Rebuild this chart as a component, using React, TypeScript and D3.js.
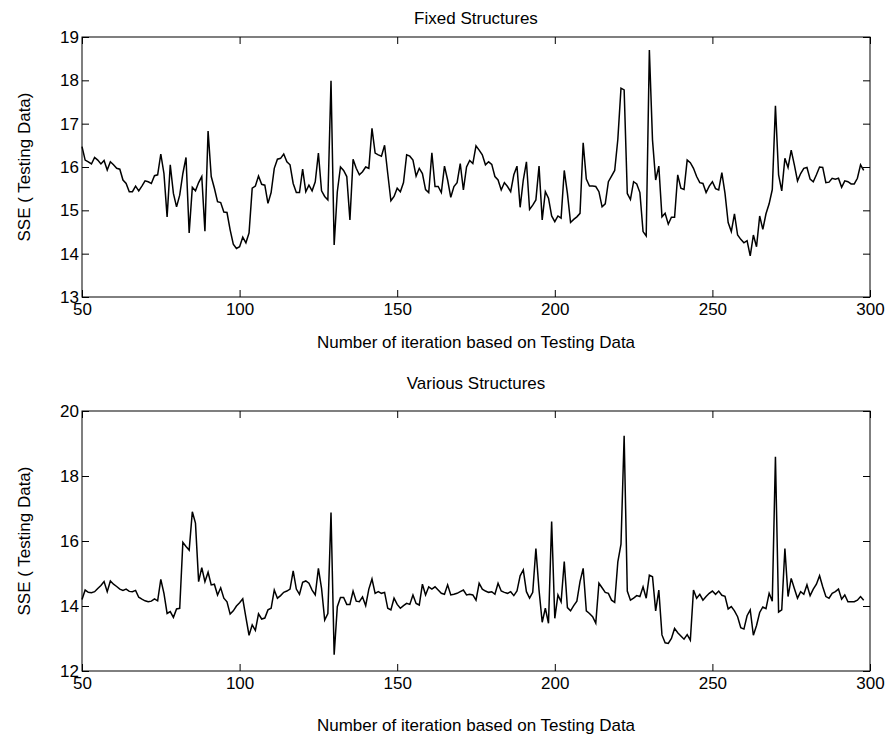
import React, { useRef, useEffect } from "react";
import * as d3 from "d3";

// iteration numbers start here, one value per iteration
const iterStart = 50;
const xTicks = [50, 100, 150, 200, 250, 300];
const fixedTicks = [13, 14, 15, 16, 17, 18, 19];
const variousTicks = [12, 14, 16, 18, 20];

// SSE on testing data, fixed structures (iterations 50..298)
const fixedSSE = [
  16.47, 16.16, 16.12, 16.07, 16.22, 16.16, 16.07, 16.15, 15.93, 16.12,
  16.05, 15.97, 15.95, 15.7, 15.62, 15.43, 15.43, 15.56, 15.45, 15.56,
  15.68, 15.66, 15.62, 15.8, 15.82, 16.3, 15.85, 14.85, 16.05, 15.39,
  15.08, 15.35, 15.85, 16.22, 14.48, 15.53, 15.45, 15.64, 15.78, 14.52,
  16.83, 15.78, 15.51, 15.2, 15.18, 14.96, 14.95, 14.55, 14.22, 14.12,
  14.16, 14.38, 14.25, 14.48, 15.51, 15.56, 15.79, 15.6, 15.58, 15.16,
  15.41, 15.97, 16.18, 16.2, 16.3, 16.12, 16.05, 15.62, 15.41, 15.41,
  15.95, 15.43, 15.58, 15.45, 15.66, 16.32, 15.45, 15.32, 15.24, 17.99,
  14.2, 15.43, 16.0, 15.92, 15.78, 14.78, 16.18, 15.97, 15.82, 15.89,
  16.0, 15.97, 16.89, 16.32, 16.28, 16.25, 16.5, 15.85, 15.22, 15.32,
  15.51, 15.43, 15.64, 16.28, 16.25, 16.16, 15.79, 15.97, 15.85, 15.48,
  15.41, 16.33, 15.55, 15.55, 15.41, 16.02, 15.7, 15.3, 15.55, 15.64,
  16.08, 15.47, 16.0, 16.15, 16.08, 16.49, 16.39, 16.28, 16.05, 16.12,
  16.06, 15.78, 15.7, 15.47, 15.64, 15.55, 15.43, 15.82, 16.02, 15.07,
  15.7, 16.12, 15.02, 15.12, 15.24, 16.02, 14.78, 15.43, 15.28, 14.87,
  14.74, 14.87, 14.82, 15.92, 15.39, 14.72, 14.79, 14.85, 14.93, 16.56,
  15.72, 15.56, 15.56, 15.55, 15.43, 15.08, 15.15, 15.66, 15.79, 15.92,
  16.64, 17.82, 17.78, 15.39, 15.25, 15.66, 15.61, 15.41, 14.51, 14.41,
  18.7, 16.62, 15.7, 16.02, 14.85, 14.93, 14.68, 14.84, 14.84, 15.82,
  15.51, 15.48, 16.16, 16.1, 15.97, 15.78, 15.64, 15.62, 15.41, 15.56,
  15.66, 15.5, 15.47, 15.87, 15.39, 14.72, 14.51, 14.92, 14.43, 14.33,
  14.25, 14.3, 13.95, 14.43, 14.16, 14.87, 14.56, 14.92, 15.15, 15.48,
  17.41, 15.82, 15.45, 16.2, 15.99, 16.39, 16.05, 15.68, 15.85, 15.97,
  15.99, 15.72, 15.66, 15.82, 16.0, 15.99, 15.64, 15.65, 15.74, 15.72,
  15.74, 15.53, 15.68, 15.66, 15.61, 15.61, 15.74, 16.05, 15.92,
];

// SSE on testing data, various structures (iterations 50..298)
const variousSSE = [
  14.2, 14.49, 14.42, 14.41, 14.44, 14.54, 14.63, 14.75, 14.44, 14.77,
  14.67, 14.6, 14.52, 14.48, 14.52, 14.45, 14.44, 14.48, 14.27, 14.21,
  14.16, 14.13, 14.15, 14.22, 14.16, 14.82, 14.39, 13.77, 13.83, 13.65,
  13.91, 13.93, 15.96, 15.83, 15.72, 16.9, 16.55, 14.75, 15.18, 14.75,
  15.04, 14.65, 14.67, 14.34, 14.56, 14.24, 14.13, 13.75, 13.85, 14.0,
  14.1, 14.22, 13.65, 13.1, 13.42, 13.25, 13.76, 13.6, 13.63, 13.88,
  13.93, 14.49, 14.24, 14.32, 14.42, 14.46, 14.52, 15.08, 14.52, 14.36,
  14.73, 14.77, 14.7, 14.49, 14.34, 15.16, 14.54, 13.57, 13.77, 16.88,
  12.5, 13.98, 14.26, 14.26, 14.05, 14.05, 14.46, 14.15, 14.13, 14.28,
  14.01, 14.52, 14.83, 14.39, 14.44, 14.39, 14.42, 13.93, 13.88, 14.24,
  14.05, 13.93, 14.01, 14.08, 14.05, 14.34, 14.08, 14.03, 14.67, 14.34,
  14.59, 14.52, 14.59, 14.49, 14.39, 14.36, 14.65, 14.34, 14.36, 14.39,
  14.44, 14.49, 14.34, 14.36, 14.34, 14.18, 14.7, 14.52, 14.46, 14.42,
  14.44, 14.36, 14.7, 14.46, 14.42, 14.39, 14.44, 14.32, 14.46, 14.93,
  15.11, 14.44, 14.24, 14.42, 15.77, 14.49, 13.5, 13.93, 13.47, 16.6,
  13.62, 14.34, 14.13, 15.37, 13.95, 13.85, 14.01, 14.15, 14.75, 15.16,
  13.85, 13.77, 13.67, 13.47, 14.7, 14.56, 14.42, 14.39, 14.18, 14.11,
  15.36, 15.9, 19.24, 14.46, 14.18, 14.24, 14.32, 14.29, 14.59, 14.24,
  14.95, 14.9, 13.85, 14.49, 13.11, 12.87, 12.85, 13.0, 13.31, 13.18,
  13.08, 12.98, 13.12, 12.95, 14.49, 14.24, 14.36, 14.18, 14.29, 14.39,
  14.46, 14.36, 14.46, 14.33, 14.3, 13.91, 13.98, 13.85, 13.67, 13.33,
  13.29, 13.7, 13.88, 13.1, 13.4, 13.8, 13.97, 13.92, 14.39, 14.15,
  18.59, 13.81, 13.88, 15.77, 14.29, 14.85, 14.54, 14.24, 14.44, 14.36,
  14.65, 14.32, 14.52, 14.67, 14.93, 14.59, 14.29, 14.24, 14.39, 14.44,
  14.52, 14.21, 14.34, 14.13, 14.13, 14.13, 14.18, 14.29, 14.18,
];

const xLabel = "Number of iteration based on Testing Data";
const yLabel = "SSE ( Testing Data)";

const width = 888;
const height = 738;
const left = 82;
const right = 870;
const plotH = 260;
const font = "'Liberation Sans', Arial, Helvetica, sans-serif";

const panels = [
  { title: "Fixed Structures", values: fixedSSE, domain: [13, 19], ticks: fixedTicks, top: 37, titleY: 24, xLabelY: 348 },
  { title: "Various Structures", values: variousSSE, domain: [12, 20], ticks: variousTicks, top: 411, titleY: 389, xLabelY: 731 },
];

const App = () => {
  const svgRef = useRef(null);

  useEffect(() => {
    const svg = d3.select(svgRef.current);
    svg.selectAll("*").remove();

    const x = d3.scaleLinear().domain([50, 300]).range([left, right]);
    const fmt = d3.format("d");

    panels.forEach((p) => {
      const bottom = p.top + plotH;
      const y = d3.scaleLinear().domain(p.domain).range([bottom, p.top]);
      const g = svg.append("g");

      // ticks point inward on all four sides, labels only bottom/left
      const bx = g.append("g").attr("transform", `translate(0,${bottom})`)
        .call(d3.axisBottom(x).tickValues(xTicks).tickFormat(fmt).tickSizeInner(-7).tickSizeOuter(0).tickPadding(6));
      const tx = g.append("g").attr("transform", `translate(0,${p.top})`)
        .call(d3.axisTop(x).tickValues(xTicks).tickSizeInner(-7).tickSizeOuter(0).tickFormat(() => ""));
      const ly = g.append("g").attr("transform", `translate(${left},0)`)
        .call(d3.axisLeft(y).tickValues(p.ticks).tickFormat(fmt).tickSizeInner(-7).tickSizeOuter(0).tickPadding(3));
      const ry = g.append("g").attr("transform", `translate(${right},0)`)
        .call(d3.axisRight(y).tickValues(p.ticks).tickSizeInner(-7).tickSizeOuter(0).tickFormat(() => ""));

      [bx, tx, ly, ry].forEach((a) => {
        a.select(".domain").remove();
        a.selectAll("line").attr("stroke", "#000").attr("stroke-width", 1);
        a.selectAll("text").attr("fill", "#000").style("font-family", font).style("font-size", "17px");
      });

      g.append("rect")
        .attr("x", left).attr("y", p.top)
        .attr("width", right - left).attr("height", plotH)
        .attr("fill", "none").attr("stroke", "#000").attr("stroke-width", 1);

      const line = d3.line()
        .x((d, i) => x(iterStart + i))
        .y((d) => y(d));

      g.append("path")
        .datum(p.values)
        .attr("d", line)
        .attr("fill", "none")
        .attr("stroke", "#000")
        .attr("stroke-width", 1.5)
        .attr("stroke-linejoin", "miter");

      g.append("text")
        .attr("x", (left + right) / 2).attr("y", p.titleY)
        .attr("text-anchor", "middle")
        .style("font-family", font).style("font-size", "17px")
        .text(p.title);

      g.append("text")
        .attr("x", (left + right) / 2).attr("y", p.xLabelY)
        .attr("text-anchor", "middle")
        .style("font-family", font).style("font-size", "17px")
        .text(xLabel);

      g.append("text")
        .attr("transform", `translate(30,${p.top + plotH / 2}) rotate(-90)`)
        .attr("text-anchor", "middle")
        .style("font-family", font).style("font-size", "17px")
        .text(yLabel);
    });
  }, []);

  return (
    <div>
      <style>{`body{margin:0;background:#fff}`}</style>
      <svg ref={svgRef} width={width} height={height} style={{ display: "block", background: "#fff" }}></svg>
    </div>
  );
};

export default App;
